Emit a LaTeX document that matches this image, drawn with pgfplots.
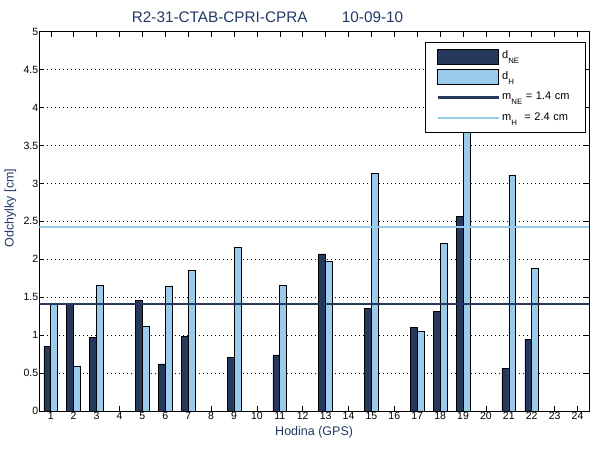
\documentclass[border=0pt]{standalone}
\usepackage{fontspec}
\setmainfont{Liberation Sans}
\usepackage{pgfplots}
\pgfplotsset{compat=1.18}
\definecolor{dk}{RGB}{38,57,92}
\definecolor{lt}{RGB}{155,203,235}
\definecolor{ttl}{RGB}{31,56,100}
\newcommand{\sub}[1]{\raisebox{-5bp}{\fontsize{7.8bp}{9bp}\selectfont #1}}
\begin{document}
\begin{tikzpicture}
\path[use as bounding box] (-39.3bp,-39bp) rectangle (560.7bp,411bp);
\begin{axis}[
  at={(0,0)}, anchor=south west,
  scale only axis, width=549.7bp, height=379.3bp,
  xmin=0.5, xmax=24.5, ymin=0, ymax=5,
  xtick={1,2,...,24},
  ytick={0,0.5,1,1.5,2,2.5,3,3.5,4,4.5,5},
  /pgf/number format/assume math mode=true,
  tick label style={font=\fontsize{10.5bp}{12bp}\selectfont, text=black},
  xticklabel style={inner sep=1bp},
  yticklabel style={inner sep=1bp},
  tick align=inside, major tick length=5bp,
  tick style={black, line width=0.5bp},
  axis line style={black, line width=0.6bp},
  ymajorgrids,
  grid style={black, line width=0.5bp, dash pattern=on 1bp off 3bp},
  xlabel={Hodina (GPS)},
  ylabel={Odchylky [cm]},
  label style={font=\fontsize{12.5bp}{14bp}\selectfont, text=ttl},
  xlabel style={at={(axis description cs:0.5,-0.0633)}, anchor=base, inner sep=0pt},
  ylabel style={at={(axis description cs:-0.0524,0.535)}, anchor=center, inner sep=0pt},
  legend cell align=left,
  legend style={at={(rel axis cs:0.994,0.973)}, anchor=north east, draw=black,
    line width=0.6bp, fill=white, inner xsep=11.7bp, inner ysep=4bp,
    column sep=2.5bp, row sep=0bp,
    font=\fontsize{11bp}{12bp}\selectfont,
    nodes={inner xsep=0pt, inner ysep=0pt, text width=71.5bp,
      text height=12.5bp, text depth=8bp, align=left}},
]
\addplot[ybar, bar width=0.3, bar shift=-0.15, fill=dk, draw=black, line width=0.6bp,
  legend image code/.code={\draw[fill=dk,draw=black,line width=0.6bp] (0bp,-7.5bp) rectangle (61bp,7.5bp);}]
  coordinates {(1,0.85) (2,1.41) (3,0.97) (5,1.46) (6,0.62) (7,0.985) (9,0.71) (11,0.74)
  (13,2.07) (15,1.355) (17,1.10) (18,1.315) (19,2.57) (21,0.565) (22,0.945)};
\addlegendentry{d\sub{NE}}
\addplot[ybar, bar width=0.3, bar shift=0.15, fill=lt, draw=black, line width=0.6bp,
  legend image code/.code={\draw[fill=lt,draw=black,line width=0.6bp] (0bp,-7.5bp) rectangle (61bp,7.5bp);}]
  coordinates {(1,1.42) (2,0.59) (3,1.66) (5,1.11) (6,1.64) (7,1.86) (9,2.16) (11,1.66)
  (13,1.975) (15,3.13) (17,1.05) (18,2.21) (19,4.2) (21,3.11) (22,1.886)};
\addlegendentry{d\sub{H}}
\addplot[dk, line width=2.2bp, no marks,
  legend image code/.code={\draw[dk,line width=2.2bp] (0bp,0bp) -- (61bp,0bp);}]
  coordinates {(0.5,1.415) (24.5,1.415)};
\addlegendentry{m\sub{NE} = 1.4 cm}
\addplot[lt, line width=2.2bp, no marks,
  legend image code/.code={\draw[lt,line width=2.2bp] (0bp,0bp) -- (61bp,0bp);}]
  coordinates {(0.5,2.43) (24.5,2.43)};
\addlegendentry{m\sub{H}\ \ = 2.4 cm}
\end{axis}
\node[anchor=base west, text=ttl, font=\fontsize{15.3bp}{18bp}\selectfont, inner sep=0pt] at (92.4bp,388.3bp) {R2-31-CTAB-CPRI-CPRA};
\node[anchor=base west, text=ttl, font=\fontsize{15.3bp}{18bp}\selectfont, inner sep=0pt] at (302.4bp,388.3bp) {10-09-10};
\end{tikzpicture}
\end{document}
